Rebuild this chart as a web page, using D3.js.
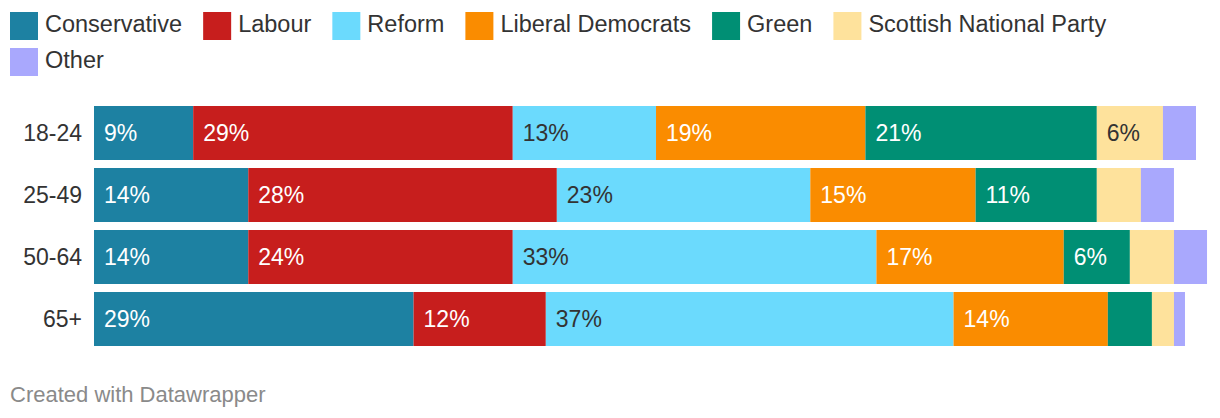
<!DOCTYPE html>
<html><head><meta charset="utf-8">
<script src="https://cdn.jsdelivr.net/npm/d3@7"></script>
<style>
html,body{margin:0;padding:0;background:#fff;}
svg{display:block;font-family:"Helvetica Neue",Helvetica,Arial,"Liberation Sans",sans-serif;}
</style></head>
<body><svg id="c" width="1220" height="418"></svg>
<script>
const categories = ["18-24","25-49","50-64","65+"];
const parties = ["Conservative","Labour","Reform","Liberal Democrats","Green","Scottish National Party","Other"];
const colors = ["#1d81a2","#c71e1d","#6bdafd","#fa8c00","#008f74","#fee29c","#a9a8fd"];
const labelColors = ["#fff","#fff","#333","#fff","#fff","#333","#fff"];
const conservative = [9,14,14,29];
const labour = [29,28,24,12];
const reform = [13,23,33,37];
const libdem = [19,15,17,14];
const green = [21,11,6,4];
const snp = [6,4,4,2];
const other = [3,3,3,1];
const seriesValues = [conservative,labour,reform,libdem,green,snp,other];

const svg = d3.select("#c");
const x = d3.scaleLinear().domain([0,100]).range([94,1196]);
const y = d3.scaleBand().domain(categories).range([106,346]).paddingInner(8/62).paddingOuter(0);

// legend
const legendRows = [[0,1,2,3,4,5],[6]];
const fs = 23.5;
legendRows.forEach((row,ri)=>{
  let cx = 10;
  row.forEach(i=>{
    const g = svg.append("g");
    g.append("rect").attr("x",cx).attr("y",12+ri*36).attr("width",28).attr("height",28).attr("fill",colors[i]);
    const t = g.append("text").attr("x",cx+35).attr("y",32+ri*36).attr("font-size",fs).attr("fill","#333").text(parties[i]);
    const w = t.node().getComputedTextLength();
    cx = cx+35+w+21;
  });
});

// stacked data
const rows = categories.map((c,ci)=>{
  let acc=0;
  return parties.map((p,pi)=>{
    const v = seriesValues[pi][ci];
    const s = {cat:c, pi, v, x0:acc, x1:acc+v};
    acc+=v; return s;
  });
});

const bars = svg.append("g");
rows.forEach(r=>{
  r.forEach(s=>{
    bars.append("rect")
      .attr("x",x(s.x0)).attr("y",y(s.cat))
      .attr("width",x(s.x1)-x(s.x0)).attr("height",y.bandwidth())
      .attr("fill",colors[s.pi]);
    if(s.v>=5){
      bars.append("text")
        .attr("x",x(s.x0)+10).attr("y",y(s.cat)+y.bandwidth()/2)
        .attr("dy","0.36em").attr("font-size",23)
        .attr("fill",labelColors[s.pi]).text(s.v+"%");
    }
  });
});

// row labels
svg.append("g").selectAll("text").data(categories).join("text")
  .attr("x",82).attr("y",d=>y(d)+y.bandwidth()/2).attr("dy","0.36em")
  .attr("text-anchor","end").attr("font-size",23).attr("fill","#333").text(d=>d);

svg.append("text").attr("x",10).attr("y",402).attr("font-size",22).attr("fill","#8a8a8a").text("Created with Datawrapper");
</script></body></html>
